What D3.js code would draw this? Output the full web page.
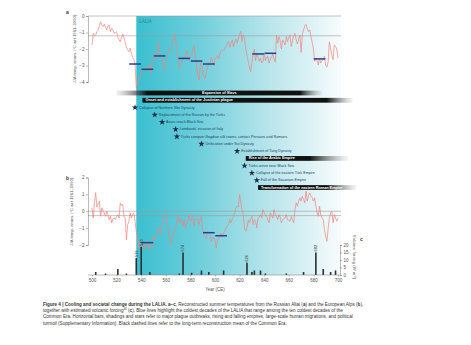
<!DOCTYPE html>
<html><head><meta charset="utf-8">
<script src="https://cdn.jsdelivr.net/npm/d3@7"></script>
<style>
html,body{margin:0;padding:0;background:#fff;}
svg{display:block;font-family:"Liberation Sans",Arial,sans-serif;}
</style></head><body>
<svg id="chart" width="471" height="345"></svg>
<script>
// ---- data ----------------------------------------------------------------
const firstYear = 500;
// Russian Altai summer temperature anomaly (°C), one value per year 500–700
const altaiTemp = [
 -1.76,-1.05,-1.2,-1.15,-0.95,-0.85,-0.6,-0.34,-0.55,-0.65,
 -0.5,-0.7,-0.85,-0.6,-0.55,-0.95,-0.75,-0.85,-1.05,-1.0,
 -0.95,-1.3,-1.45,-1.56,-1.3,-1.09,-1.3,-1.6,-1.9,-2.05,
 -2.16,-1.95,-2.26,-2.5,-2.65,-2.87,-4.38,-4.1,-3.8,-3.78,
 -3.4,-3.25,-3.18,-3.3,-3.07,-3.15,-3.2,-2.97,-3.47,-2.8,
 -2.46,-2.3,-2.6,-2.1,-1.56,-2.4,-2.3,-2.5,-2.87,-3.28,
 -2.8,-2.55,-2.2,-1.95,-2.0,-1.8,-1.45,-1.05,-1.5,-2.0,
 -2.6,-3.17,-2.9,-2.8,-2.5,-2.6,-2.4,-2.1,-2.5,-2.7,
 -2.5,-2.4,-2.0,-1.8,-2.5,-3.0,-3.5,-3.88,-3.0,-2.75,
 -3.4,-3.68,-3.8,-3.3,-3.1,-2.9,-2.85,-2.5,-2.7,-3.0,
 -2.65,-2.5,-2.4,-2.6,-2.27,-2.1,-2.05,-2.1,-1.95,-1.85,
 -1.66,-1.55,-1.9,-1.7,-1.45,-1.85,-1.6,-1.4,-1.65,-1.35,
 -1.1,-0.93,-1.55,-1.15,-1.3,-2.0,-2.4,-2.75,-3.1,-3.38,
 -2.8,-2.3,-2.0,-2.7,-2.25,-2.5,-2.75,-2.55,-2.85,-2.75,
 -2.25,-2.7,-2.5,-2.45,-2.85,-2.6,-2.5,-2.3,-2.6,-2.8,
 -1.15,-1.65,-1.25,-1.5,-2.0,-1.45,-1.6,-1.75,-1.25,-1.55,
 -1.3,-1.15,-1.85,-1.5,-1.2,-1.05,-1.45,-1.7,-1.4,-1.15,
 -2.2,-1.1,-0.85,-0.6,-0.5,-0.75,-0.95,-0.85,-1.25,-1.6,
 -2.0,-2.75,-2.55,-2.7,-2.97,-2.55,-2.85,-2.7,-2.65,-2.45,
 -3.0,-3.1,-2.75,-1.56,-2.0,-2.4,-2.65,-1.75,-1.85,-2.0,
 -2.55];
// European Alps summer temperature anomaly (°C), 500–700
const alpsTemp = [
 0.2,-0.4,0.5,1.1,0.25,0.45,0.6,-0.3,0.2,0.05,
 -0.1,-0.3,0.0,-0.2,-0.5,-0.3,-0.69,-0.45,-0.4,-0.5,
 -0.3,-0.2,-0.4,0.5,0.35,0.4,-0.3,-0.4,-1.69,-0.8,
 -0.59,-0.1,-0.4,-0.2,-0.1,-0.59,-1.2,-1.5,-2.18,-1.78,
 -2.05,-2.28,-1.98,-2.18,-1.9,-1.78,-2.28,-1.98,-2.1,-2.18,
 -1.49,-1.69,-1.4,-1.29,-0.99,-1.2,-1.39,-0.89,-0.5,-0.3,
 -0.2,-0.69,-1.0,-1.5,-1.98,-1.6,-1.49,-1.19,-0.99,-0.6,
 -0.3,-0.69,-0.4,-0.6,-0.89,-0.5,-0.99,-0.7,-0.5,-0.2,
 -0.6,-0.4,-0.3,-0.89,-0.5,-0.45,-0.4,-0.79,-0.5,-0.3,
 -1.09,-1.39,-1.5,-1.59,-1.19,-1.3,-1.39,-1.78,-1.49,-1.55,
 -1.69,-2.18,-1.78,-1.6,-1.49,-1.29,-1.49,-1.3,-1.19,-0.99,
 -0.89,-0.79,-0.5,-0.69,-0.45,-0.3,-0.1,0.2,0.3,0.25,
 0.99,0.5,0.1,-0.2,-0.99,-1.19,-1.0,-0.5,-0.69,-0.45,
 -0.3,-0.79,-0.5,-0.6,-0.99,-0.4,-0.35,-0.2,-0.4,0.1,
 -0.1,-0.2,-0.3,-0.5,-0.69,-0.1,-0.25,-0.4,0.1,-0.2,
 -0.3,-0.5,-0.2,-0.35,-0.69,-0.5,-0.45,-0.4,-0.2,-0.5,
 -0.55,-0.59,-0.3,-0.55,-0.69,0.1,0.5,0.3,0.6,0.79,
 0.6,0.89,0.7,0.5,1.19,0.6,0.9,1.09,0.89,0.8,
 0.6,0.79,0.3,-0.1,-0.3,0.3,-0.2,-0.4,-0.5,-1.09,
 -1.5,-1.78,-0.99,-0.4,-0.1,0.0,-0.69,-0.2,-0.4,-0.59,
 -0.4];

// coldest decades (start year, decadal mean)
const coldDecadesA = [530,540,550,570,580,590,630,640,680];
const coldMeansA   = [-2.91,-3.23,-2.42,-2.57,-2.73,-2.91,-2.30,-2.26,-2.60];
const coldDecadesB = [540,590,600];
const coldMeansB   = [-1.86,-1.27,-1.45];

// long-term Common Era means
const meanA = -1.2, meanB = -0.26;

// volcanic forcing
const volcYears   = [503,511,521,528,536,540,547,571,574,581,589,595,607,626,630,632,637,641,658,672,682,688,694,698];
const volcForcing = [2,1,4,1,11.3,18.7,2,1,15,1.5,3,2,3,8.2,2,3,3,1,1,2,15,4,2,3];
const volcLabelled = [536,540,574,626,682];

const laliaStart = 536;
const xTicks = [500,520,540,560,580,600,620,640,660,680,700];
const aTicks = [0,-1,-2,-3,-4];
const bTicks = [2,1,0,-1,-2];
const cTicks = [0,5,10,15,20];

// historical events (row order), type: bar or star
const eventLabels = [
 "Expansion of Slavs",
 "Onset and establishment of the Justinian plague",
 "Collapse of Northern Wei Dynasty",
 "Replacement of the Rouran by the Türks",
 "Avars reach Black Sea",
 "Lombards' invasion of Italy",
 "Türks conquer Sogdian silk towns, contact Persians and Romans",
 "Unification under Sui Dynasty",
 "Establishment of Tang Dynasty",
 "Rise of the Arabic Empire",
 "Türks arrive near Black Sea",
 "Collapse of the eastern Türk Empire",
 "Fall of the Sasanian Empire",
 "Transformation of the eastern Roman Empire"];
const eventTypes = ["bar","bar","star","star","star","star","star","star","star","bar","star","star","star","bar"];
const eventYears = [545,541,535,551,557,568,569,589,618,625,624,630,634,635];
// bar extents: fade-in start, solid end, fade-out end (years)
const barFadeIn  = [520,541,625,635];
const barSolidTo = [669,691,677,691];
const barFadeOut = [687,712,708,715];

// ---- drawing -------------------------------------------------------------
const svg = d3.select("#chart");
svg.append("rect").attr("width",471).attr("height",345).attr("fill","#fff");
const defs = svg.append("defs");

const x  = d3.scaleLinear().domain([500,700]).range([92,338]);
const ya = d3.scaleLinear().domain([0,-4]).range([16,82]);
const yb = d3.scaleLinear().domain([2,-2]).range([177.5,245]);
const yc = d3.scaleLinear().domain([0,20]).range([275,245]);
const axisX0 = 88, axisX1 = 341;
const intFmt = d3.format("d");

// LALIA shading
const g0 = defs.append("linearGradient").attr("id","lalia").attr("x1",0).attr("x2",1).attr("y1",0).attr("y2",0);
[[0,"#3abfd0"],[0.3,"#6dcedb"],[0.62,"#b3e3ea"],[1,"#f8fcfd"]].forEach(s=>
  g0.append("stop").attr("offset",s[0]).attr("stop-color",s[1]));
svg.append("rect").attr("x",x(laliaStart)).attr("y",ya(0))
  .attr("width",axisX1-x(laliaStart)).attr("height",yc(0)-ya(0))
  .attr("fill","url(#lalia)");
svg.append("text").attr("x",x(laliaStart)+3).attr("y",ya(0)+6.5)
  .attr("font-size",4.6).attr("fill","#2b8797").text("LALIA");

// reference lines
function hline(y){ svg.append("line").attr("x1",axisX0).attr("x2",axisX1).attr("y1",y).attr("y2",y)
  .attr("stroke","#9a9a9a").attr("stroke-width",0.6); }
hline(ya(0)); hline(ya(meanA)); hline(yb(0)); hline(yb(meanB));

// temperature lines
const lineA = d3.line().x((d,i)=>x(firstYear+i)).y(d=>ya(d));
const lineB = d3.line().x((d,i)=>x(firstYear+i)).y(d=>yb(d));
svg.append("path").attr("d",lineA(altaiTemp)).attr("fill","none").attr("stroke","#f2837b").attr("stroke-width",0.7).attr("stroke-linejoin","round");
svg.append("path").attr("d",lineB(alpsTemp)).attr("fill","none").attr("stroke","#f2837b").attr("stroke-width",0.7).attr("stroke-linejoin","round");

// coldest decades
function decades(starts, means, y){
  svg.append("g").selectAll("line").data(starts).join("line")
    .attr("x1",d=>x(d)+0.3).attr("x2",d=>x(d+10)-0.3)
    .attr("y1",(d,i)=>y(means[i])).attr("y2",(d,i)=>y(means[i]))
    .attr("stroke","#2a3f8c").attr("stroke-width",1.5);
}
decades(coldDecadesA, coldMeansA, ya);
decades(coldDecadesB, coldMeansB, yb);

// volcanic forcing bars
svg.append("g").selectAll("rect").data(volcYears).join("rect")
  .attr("x",d=>x(d)-0.8).attr("width",1.6)
  .attr("y",(d,i)=>yc(volcForcing[i])).attr("height",(d,i)=>yc(0)-yc(volcForcing[i]))
  .attr("fill","#2f2f33");
svg.append("g").selectAll("text").data(volcLabelled).join("text")
  .attr("transform",d=>{const i=volcYears.indexOf(d);return `translate(${x(d)+1.4},${yc(volcForcing[i])-1}) rotate(-90)`;})
  .attr("font-size",4).attr("fill","#333").text(d=>d);

// axes
function styleAxis(g){
  g.selectAll("path.domain").attr("stroke","#777").attr("stroke-width",0.5);
  g.selectAll(".tick line").attr("stroke","#777").attr("stroke-width",0.5);
  g.selectAll(".tick text").attr("font-size",4.5).attr("fill","#555").attr("font-family","Liberation Sans, Arial, sans-serif");
}
svg.append("g").attr("transform",`translate(${axisX0},0)`)
  .call(d3.axisLeft(ya).tickValues(aTicks).tickFormat(intFmt).tickSize(2).tickPadding(1.5)).call(styleAxis);
svg.append("g").attr("transform",`translate(${axisX0},0)`)
  .call(d3.axisLeft(yb).tickValues(bTicks).tickFormat(intFmt).tickSize(2).tickPadding(1.5)).call(styleAxis);
svg.append("g").attr("transform",`translate(${axisX1-1},0)`)
  .call(d3.axisRight(yc).tickValues(cTicks).tickFormat(intFmt).tickSize(2).tickPadding(1.5)).call(styleAxis);
const xa = svg.append("g").attr("transform",`translate(0,${yc(0)})`)
  .call(d3.axisBottom(x).tickValues(xTicks).tickFormat(intFmt).tickSize(1.5).tickPadding(2.5)).call(styleAxis);
xa.select("path.domain").attr("d",`M${axisX0},0H${axisX1-1}`);

// axis titles and panel letters
function vtext(xp, yp, rot, str){
  svg.append("text").attr("transform",`translate(${xp},${yp}) rotate(${rot})`)
    .attr("text-anchor","middle").attr("font-size",4.2).attr("fill","#555").text(str);
}
vtext(76, 49, -90, "JJA temp. anom. (°C wrt 1961–1990)");
vtext(73, 212, -90, "JJA temp. anom. (°C wrt 1961–1990)");
vtext(353, 257, 90, "Volcanic forcing (W m⁻²)");
svg.append("text").attr("x",x(600)).attr("y",291).attr("text-anchor","middle")
  .attr("font-size",4.5).attr("fill","#555").text("Year (CE)");
[["a",66,14],["b",66,180],["c",360,241]].forEach(d=>
  svg.append("text").attr("x",d[1]).attr("y",d[2]).attr("font-size",5).attr("font-weight","bold").attr("fill","#333").text(d[0]));

// historical events
const rowY = i => 93 + i*7.27;
const star = d3.symbol().type(d3.symbolStar).size(13);
let bi = 0;
eventLabels.forEach((lab,i)=>{
  const y = rowY(i);
  if (eventTypes[i] === "bar") {
    const s0 = barFadeIn[bi], s1 = eventYears[i], s2 = barSolidTo[bi], s3 = barFadeOut[bi];
    const id = "bar"+bi;
    const gr = defs.append("linearGradient").attr("id",id).attr("gradientUnits","userSpaceOnUse")
      .attr("x1",x(s0)).attr("x2",x(s3)).attr("y1",0).attr("y2",0);
    const span = s3 - s0;
    gr.append("stop").attr("offset",0).attr("stop-color", s0<s1 ? "#9a9a9a" : "#111").attr("stop-opacity", s0<s1 ? 0.15 : 1);
    gr.append("stop").attr("offset",(s1-s0)/span).attr("stop-color","#111");
    gr.append("stop").attr("offset",(s2-s0)/span).attr("stop-color","#111");
    gr.append("stop").attr("offset",1).attr("stop-color","#9a9a9a").attr("stop-opacity",0.1);
    svg.append("rect").attr("x",x(s0)).attr("y",y-2.4).attr("width",x(s3)-x(s0)).attr("height",4.8)
      .attr("fill",`url(#${id})`);
    const t = svg.append("text").attr("y",y).attr("dominant-baseline","central")
      .attr("font-size",3.8).attr("font-weight","bold").attr("fill","#fff").text(lab);
    if (s0 < s1) t.attr("x",x((s0+s3)/2)).attr("text-anchor","middle");
    else t.attr("x",x(s1)+3);
    bi++;
  } else {
    svg.append("path").attr("d",star).attr("transform",`translate(${x(eventYears[i])},${y})`).attr("fill","#1d2c4c");
    svg.append("text").attr("x",x(eventYears[i])+4).attr("y",y).attr("dominant-baseline","central")
      .attr("font-size",3.7).attr("fill","#1f4563").text(lab);
  }
});

// caption
const capLines = [
 [["b","Figure 4 | Cooling and societal change during the LALIA. a–c"],["",", Reconstructed summer temperatures from the Russian Altai ("],["b","a"],["",") and the European Alps ("],["b","b"],["","),"]],
 [["","together with estimated volcanic forcing"],["s","34"],[""," ("],["b","c"],["","). Blue lines highlight the coldest decades of the LALIA that range among the ten coldest decades of the"]],
 [["","Common Era. Horizontal bars, shadings and stars refer to major plague outbreaks, rising and falling empires, large-scale human migrations, and political"]],
 [["","turmoil (Supplementary Information). Black dashed lines refer to the long-term reconstruction mean of the Common Era."]]
];
capLines.forEach((ln,li)=>{
  const t = svg.append("text").attr("x",43).attr("y",305.5+li*6.4).attr("font-size",4.6).attr("fill","#333");
  let raised = false;
  ln.forEach(p=>{
    const ts = t.append("tspan").text(p[1]);
    if (p[0]==="b") ts.attr("font-weight","bold");
    if (p[0]==="s") { ts.attr("font-size",3).attr("dy",-1.5); raised = true; }
    else if (raised) { ts.attr("dy",1.5); raised = false; }
  });
});
</script>
</body></html>
